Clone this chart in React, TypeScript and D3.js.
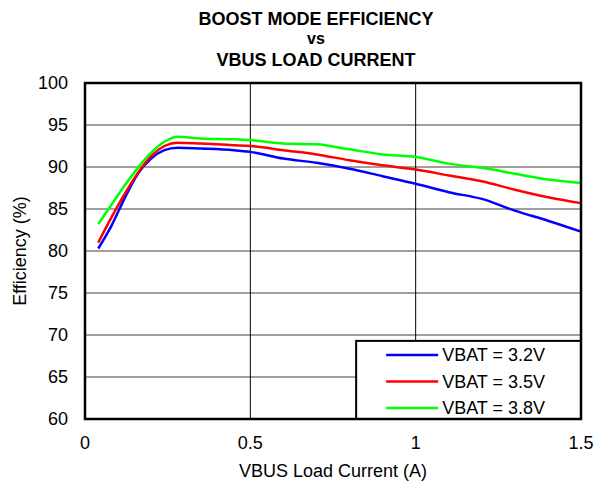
// @ts-nocheck
import * as d3 from "d3";
import React, { useRef, useEffect } from "react";

const current = [0.04, 0.08, 0.12, 0.16, 0.2, 0.24, 0.28, 0.35, 0.45, 0.5, 0.6, 0.7, 0.8, 0.9, 1.0, 1.1, 1.2, 1.3, 1.4, 1.5];
const vbat32 = [80.3, 83.0, 86.3, 89.2, 91.0, 92.0, 92.3, 92.2, 92.0, 91.8, 91.0, 90.5, 89.8, 88.9, 88.0, 87.0, 86.2, 84.8, 83.6, 82.3];
const vbat35 = [81.0, 84.0, 86.8, 89.3, 91.3, 92.5, 92.9, 92.8, 92.6, 92.5, 92.0, 91.5, 90.8, 90.2, 89.7, 89.0, 88.3, 87.3, 86.4, 85.7];
const vbat38 = [83.2, 85.5, 87.8, 89.9, 91.7, 93.0, 93.6, 93.4, 93.3, 93.2, 92.8, 92.7, 92.1, 91.5, 91.2, 90.4, 89.9, 89.2, 88.5, 88.1];

const seriesNames = ["VBAT = 3.2V", "VBAT = 3.5V", "VBAT = 3.8V"];
const seriesColors = ["#0000ff", "#ff0000", "#00ff00"];
const xTicks = [0, 0.5, 1, 1.5];
const yTicks = [60, 65, 70, 75, 80, 85, 90, 95, 100];
const titleLines = ["BOOST MODE EFFICIENCY", "vs", "VBUS LOAD CURRENT"];

export default function App() {
  const svgRef = useRef<SVGSVGElement | null>(null);

  useEffect(() => {
    const width = 594;
    const height = 487;
    const margin = { top: 83, right: 13, bottom: 68, left: 85 };
    const chartW = width - margin.left - margin.right;
    const chartH = height - margin.top - margin.bottom;
    const font = "Arial, 'Liberation Sans', sans-serif";
    const fs = 18;

    const svg = d3.select(svgRef.current).attr("width", width).attr("height", height);
    svg.selectAll("*").remove();
    svg.append("rect").attr("width", width).attr("height", height).attr("fill", "#fff");

    const g = svg.append("g").attr("transform", `translate(${margin.left},${margin.top})`);

    const x = d3.scaleLinear().domain([0, 1.5]).range([0, chartW]);
    const y = d3.scaleLinear().domain([60, 100]).range([chartH, 0]);

    // horizontal grid (gray)
    g.append("g")
      .selectAll("line")
      .data(yTicks.slice(1, -1))
      .join("line")
      .attr("x1", 0).attr("x2", chartW)
      .attr("y1", d => y(d)).attr("y2", d => y(d))
      .attr("stroke", "#7f7f7f").attr("stroke-width", 1.5);

    // vertical grid (black)
    g.append("g")
      .selectAll("line")
      .data(xTicks.slice(1, -1))
      .join("line")
      .attr("x1", d => x(d)).attr("x2", d => x(d))
      .attr("y1", 0).attr("y2", chartH)
      .attr("stroke", "#000").attr("stroke-width", 1);

    const series = [vbat32, vbat35, vbat38];
    const line = d3.line<number>()
      .x((d, i) => x(current[i]))
      .y(d => y(d))
      .curve(d3.curveMonotoneX);

    series.forEach((s, k) => {
      g.append("path")
        .datum(s)
        .attr("fill", "none")
        .attr("stroke", seriesColors[k])
        .attr("stroke-width", 2.5)
        .attr("d", line);
    });

    // legend
    const lg = g.append("g");
    const lx0 = x(0.82);
    lg.append("rect")
      .attr("x", lx0).attr("y", y(69.3))
      .attr("width", chartW - lx0).attr("height", chartH - y(69.3))
      .attr("fill", "#fff").attr("stroke", "#000").attr("stroke-width", 2);
    seriesNames.forEach((name, k) => {
      const ly = y(69.3) + 14 + k * 26.5;
      lg.append("line")
        .attr("x1", lx0 + 30).attr("x2", lx0 + 82)
        .attr("y1", ly).attr("y2", ly)
        .attr("stroke", seriesColors[k]).attr("stroke-width", 2.5);
      lg.append("text")
        .attr("x", lx0 + 86).attr("y", ly)
        .attr("dy", "0.35em")
        .attr("font-family", font).attr("font-size", fs)
        .text(name);
    });

    // frame
    g.append("rect")
      .attr("width", chartW).attr("height", chartH)
      .attr("fill", "none").attr("stroke", "#000").attr("stroke-width", 2.5);

    // tick labels
    g.append("g")
      .selectAll("text")
      .data(yTicks)
      .join("text")
      .attr("x", -17).attr("y", d => y(d))
      .attr("dy", "0.35em")
      .attr("text-anchor", "end")
      .attr("font-family", font).attr("font-size", fs)
      .text(d => d);

    g.append("g")
      .selectAll("text")
      .data(xTicks)
      .join("text")
      .attr("x", d => x(d)).attr("y", chartH + 30)
      .attr("text-anchor", "middle")
      .attr("font-family", font).attr("font-size", fs)
      .text(d => d);

    // axis titles
    g.append("text")
      .attr("x", chartW / 2).attr("y", chartH + 58)
      .attr("text-anchor", "middle")
      .attr("font-family", font).attr("font-size", fs)
      .text("VBUS Load Current (A)");

    g.append("text")
      .attr("transform", `translate(${-59},${chartH / 2}) rotate(-90)`)
      .attr("text-anchor", "middle")
      .attr("font-family", font).attr("font-size", fs)
      .text("Efficiency (%)");

    // title
    const tg = svg.append("g");
    [25, 44, 66].forEach((ty, i) => {
      tg.append("text")
        .attr("x", 316).attr("y", ty)
        .attr("text-anchor", "middle")
        .attr("font-family", font).attr("font-weight", "bold")
        .attr("font-size", i === 1 ? 16 : 18)
        .text(titleLines[i]);
    });
  }, []);

  return <svg ref={svgRef} style={{ position: "absolute", left: 0, top: 0 }} />;
}
